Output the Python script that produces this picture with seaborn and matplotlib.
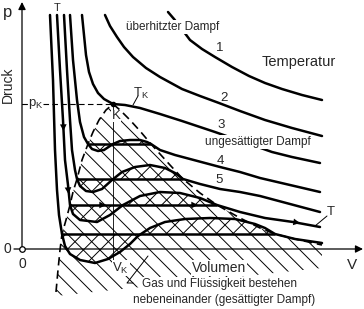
import numpy as np
import pandas as pd
import matplotlib
matplotlib.use("Agg")
import matplotlib.pyplot as plt
import seaborn as sns

# ---- data (V = volume, p = pressure, arbitrary units) ----
iso1_V = [146, 152, 159, 168, 180, 193, 210, 227, 243, 260, 280, 300]
iso1_p = [237, 230, 221, 209, 200, 192, 182, 173, 166, 160, 154, 149]

iso2_V = [83, 88, 95, 102, 111, 124, 138, 160, 178, 197, 218, 243, 270, 300]
iso2_p = [234, 223, 212, 202, 192, 181, 172, 160, 153, 146, 138, 129, 121, 113]

isoK_V = [60, 62, 64, 67, 71, 76, 82, 91, 103, 118, 138, 160, 178, 193, 213, 233, 250, 270, 298]
isoK_p = [234, 214, 194, 177, 165, 156, 150, 145, 144, 141, 135, 128, 122, 117, 110, 103, 97, 92, 86]

iso4_V = [48, 51, 55, 58, 62, 66, 70, 76, 82, 88, 91, 98, 108, 118, 125, 129, 138, 153, 168, 183, 198, 218, 238, 268, 298]
iso4_p = [234, 189, 149, 127, 112, 105, 100, 98, 99, 103, 105, 108, 109, 109, 107, 105, 99, 94, 90, 86, 82, 77, 71, 64, 57]

iso5_V = [42, 45, 48, 50, 53, 55, 58, 64, 71, 80, 90, 100, 113, 128, 143, 153, 161, 178, 198, 218, 238, 268, 298]
iso5_p = [234, 179, 129, 99, 79, 70, 63, 58, 57, 60, 69, 77, 82, 84, 81, 76, 70, 65, 60, 57, 53, 45, 37]

isoT_V = [35, 38, 41, 43, 46, 48, 51, 58, 75, 88, 101, 118, 138, 158, 178, 195, 218, 243, 271, 298]
isoT_p = [234, 179, 129, 89, 64, 44, 35, 29, 27, 34, 44, 53, 57, 56, 51, 44, 37, 31, 27, 22]

iso6_V = [28, 31, 33, 35, 37, 40, 43, 48, 58, 73, 86, 98, 108, 116, 128, 143, 163, 188, 213, 233, 243, 253, 273, 300]
iso6_p = [234, 169, 99, 59, 34, 15, 3, -5, -11, -14, -10, -3, 5, 13, 21, 27, 30, 31, 30, 25, 21, 15, 10, 6]

# Maxwell (saturation) lines: pressure, left volume, right volume
maxwell_p = [105, 70, 44, 15]
maxwell_Vl = [66, 55, 48, 40]
maxwell_Vr = [129, 161, 195, 253]

# Saturation (binodal) curve
bin_V = [34, 36, 38, 40, 44, 48, 51, 55, 60, 66, 71, 77, 84, 91,
         98, 108, 118, 129, 138, 148, 161, 178, 195, 218, 238, 253, 273, 300]
bin_p = [-43, -21, -1, 15, 29, 44, 57, 70, 89, 105, 117, 129, 139, 145,
         139, 129, 118, 105, 95, 84, 70, 56, 44, 31, 21, 15, 10, 4]
hatch_floor_V = [300, 34]
hatch_floor_p = [-19, -47]

V_K, p_K = 91, 145

curves = {"1": (iso1_V, iso1_p), "2": (iso2_V, iso2_p), "3": (isoK_V, isoK_p),
          "4": (iso4_V, iso4_p), "5": (iso5_V, iso5_p), "T": (isoT_V, isoT_p),
          "6": (iso6_V, iso6_p)}
loops = [(iso4_V, iso4_p), (iso5_V, iso5_p), (isoT_V, isoT_p), (iso6_V, iso6_p)]

rows = []
for name, (vv, pp) in curves.items():
    for v, p in zip(vv, pp):
        rows.append({"curve": name, "V": v, "p": p})
df = pd.DataFrame(rows)

# ---- figure ----
sns.set_style("white")
plt.rcParams["font.family"] = ["Liberation Sans Narrow", "Liberation Sans", "DejaVu Sans"]
plt.rcParams["mathtext.default"] = "regular"
plt.rcParams["hatch.linewidth"] = 0.7

fig = plt.figure(figsize=(3.64, 3.09), dpi=100)
ax = fig.add_axes([0, 0, 1, 1])
ax.set_xlim(-22, 342)
ax.set_ylim(-60, 249)
ax.axis("off")

# two-phase region hatch
hx = bin_V + hatch_floor_V
hy = bin_p + hatch_floor_p
ax.fill(hx, hy, facecolor="none", edgecolor="black", lw=0, hatch="\\\\", zorder=1)

# cross-hatched loop areas
for (vv, pp), pm, vl, vr in zip(loops, maxwell_p, maxwell_Vl, maxwell_Vr):
    vv = np.array(vv, float); pp = np.array(pp, float)
    m = (vv >= vl) & (vv <= vr)
    ax.fill_between(vv[m], pp[m], pm, facecolor="none", edgecolor="black", lw=0,
                    hatch="//", zorder=2)

# isotherms
sns.lineplot(data=df, x="V", y="p", units="curve", estimator=None, sort=False,
             color="black", lw=1.8, ax=ax, legend=False, zorder=3)
ax.set_xlim(-22, 342); ax.set_ylim(-60, 249); ax.axis("off")

# Maxwell lines
ax.hlines(maxwell_p, maxwell_Vl, maxwell_Vr, color="black", lw=1.8, zorder=3)

# binodal
ax.plot(bin_V, bin_p, color="black", lw=1.2, ls=(0, (5, 3)), zorder=3)

# critical point helpers
ax.plot([V_K, V_K], [p_K, -11], color="black", lw=0.6, zorder=3)
ax.plot([21, V_K], [p_K, p_K], color="black", lw=0.8, ls=(0, (5, 3)), zorder=3)
ax.plot([0, 5], [p_K, p_K], color="black", lw=0.8, zorder=3)
ax.plot([V_K], [p_K], marker="o", ms=3, color="black", zorder=4)

# axes
ax.annotate("", xy=(341, 0), xytext=(-8, 0),
            arrowprops=dict(arrowstyle="-|>", lw=0.9, color="black", mutation_scale=11,
                            shrinkA=0, shrinkB=0), zorder=4)
ax.annotate("", xy=(0, 247), xytext=(0, 0),
            arrowprops=dict(arrowstyle="-|>", lw=0.9, color="black", mutation_scale=11,
                            shrinkA=0, shrinkB=0), zorder=4)
ax.plot([0], [0], marker="o", ms=4, mfc="white", mec="black", mew=0.9, zorder=5)

# flow arrows
arrows = [((41, 134), (41.5, 118)), ((45.5, 69), (46.5, 55)), ((72, 44), (84, 44)),
          ((164, 44), (176, 44)), ((266, 28), (278, 26))]
for tail, tip in arrows:
    ax.annotate("", xy=tip, xytext=tail,
                arrowprops=dict(arrowstyle="-|>", lw=0, color="black", mutation_scale=12,
                                shrinkA=0, shrinkB=0), zorder=4)

# leaders
ax.plot([111, 116], [144, 153], color="black", lw=0.7, zorder=4)
ax.plot([293, 305], [23, 33], color="black", lw=0.7, zorder=4)
ax.plot([111, 105, 126], [-34, -34, -7], color="black", lw=0.7, zorder=6)

wb = dict(facecolor="white", edgecolor="none", pad=0.6)
fs = 8.5
ax.text(-14, 237, "p", fontsize=12, ha="center", va="center")
ax.text(-14, 164, "Druck", fontsize=10, rotation=90, ha="center", va="center")
ax.text(5.5, 145, "p$_K$", fontsize=9.5, ha="left", va="center", zorder=6)
ax.text(-15, 0, "0", fontsize=10, ha="center", va="center")
ax.text(0, -15, "0", fontsize=10, ha="center", va="center")
ax.text(330, -16, "V", fontsize=11, ha="center", va="center")
ax.text(35, 241, "T", fontsize=8, ha="center", va="center")
ax.text(119, 156, "T$_K$", fontsize=9.5, ha="center", va="center")
ax.text(94, 133, "K", fontsize=9.5, ha="center", va="center", zorder=6,
        bbox=dict(facecolor="white", edgecolor="none", pad=0.2))
for lab, (v, p) in {"1": (198, 201), "2": (202, 151), "3": (199, 124),
                    "4": (198, 88), "5": (197, 69)}.items():
    ax.text(v, p, lab, fontsize=9.5, ha="center", va="center", zorder=6)
ax.text(151, 222, "überhitzter Dampf", fontsize=fs, ha="center", va="center", zorder=6, bbox=wb)
ax.text(277, 187, "Temperatur", fontsize=10.5, ha="center", va="center", zorder=6)
ax.text(236, 107, "ungesättigter Dampf", fontsize=fs, ha="center", va="center", zorder=6, bbox=wb)
ax.text(309, 37, "T", fontsize=9.5, ha="center", va="center", zorder=6)
ax.text(99, -19, "V$_K$", fontsize=9.5, ha="center", va="center", zorder=6, bbox=wb)
ax.text(197, -19, "Volumen", fontsize=10, ha="center", va="center", zorder=6, bbox=wb)
ax.text(198, -35, "Gas und Flüssigkeit bestehen", fontsize=fs, ha="center", va="center",
        zorder=6, bbox=wb)
ax.text(202, -51, "nebeneinander (gesättigter Dampf)", fontsize=fs, ha="center", va="center",
        zorder=6, bbox=wb)

fig.savefig("out.png", dpi=100, facecolor="white")
